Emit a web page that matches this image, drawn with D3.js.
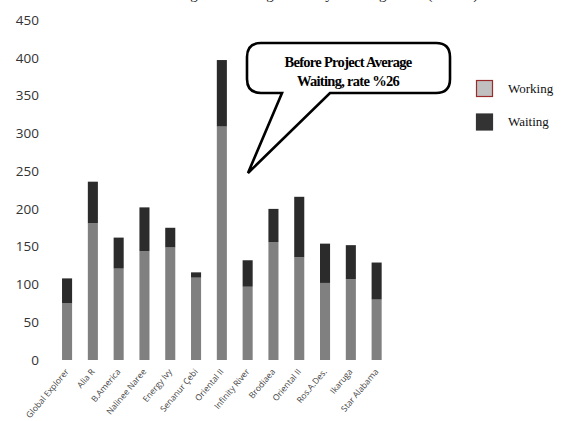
<!DOCTYPE html>
<html>
<head>
<meta charset="utf-8">
<script src="https://cdn.jsdelivr.net/npm/d3@7"></script>
<style>
  html, body { margin: 0; padding: 0; background: #fff; }
  svg { display: block; }
</style>
</head>
<body>
<svg id="chart" width="566" height="421"></svg>
<script>
const categories = ["Global Explorer", "Alia R", "B.America", "Nalinee Naree", "Energy Ivy", "Senanur Çebi", "Oriental II", "Infinity River", "Brodiaea", "Oriental II", "Ros.A.Des.", "Ikaruga", "Star Alabama"];
const working = [75, 181, 121, 144, 149, 109, 309, 97, 156, 136, 102, 107, 80];
const waiting = [33, 55, 41, 58, 26, 7, 88, 35, 44, 80, 52, 45, 49];
const yTicks = [0, 50, 100, 150, 200, 250, 300, 350, 400, 450];
const seriesNames = ["Working", "Waiting"];
const titleText = "Vessel Working and Waiting Times by Loading Berth (Before)";
const calloutLines = ["Before Project Average", "Waiting, rate  %26"];

const svg = d3.select("#chart");
const idx = d3.range(categories.length);

const x = d3.scaleBand().domain(idx).range([46.3, 397.4]).padding(0.61);
const y = d3.scaleLinear().domain([0, 450]).range([360, 20]);

// cropped title (only descenders visible, as in the reference)
svg.append("text")
  .attr("x", 291).attr("y", -1)
  .attr("text-anchor", "middle")
  .attr("font-family", "Liberation Serif")
  .attr("font-size", 15)
  .attr("fill", "#222")
  .text(titleText);

// y axis
const yAxis = d3.axisLeft(y).tickValues(yTicks).tickSize(0).tickPadding(0);
const gy = svg.append("g").attr("transform", "translate(39,0)").call(yAxis);
gy.select(".domain").remove();
gy.selectAll("text")
  .attr("font-family", "Open Sans")
  .attr("font-size", 13.5)
  .attr("fill", "#333");

// stacked bars
const rows = idx.map(i => ({ i, Working: working[i], Waiting: waiting[i] }));
const stack = d3.stack().keys(seriesNames)(rows);
const colors = { Working: "#808080", Waiting: "#2b2b2b" };

svg.selectAll("g.layer").data(stack).join("g")
  .attr("class", "layer")
  .attr("fill", d => colors[d.key])
  .selectAll("rect").data(d => d).join("rect")
  .attr("x", d => x(d.data.i))
  .attr("width", x.bandwidth())
  .attr("y", d => y(d[1]))
  .attr("height", d => y(d[0]) - y(d[1]));

// x axis labels
const xAxis = d3.axisBottom(x).tickSize(0).tickPadding(0).tickFormat(i => categories[i]);
const gx = svg.append("g").attr("transform", "translate(0,366)").call(xAxis);
gx.select(".domain").remove();
gx.selectAll("text")
  .attr("font-family", "Open Sans")
  .attr("font-size", 8.5)
  .attr("fill", "#444")
  .attr("text-anchor", "end")
  .attr("dy", "0.35em")
  .attr("transform", "translate(0,4) rotate(-50)");

// callout
const bx0 = 247, bx1 = 450, by0 = 43, by1 = 93, r = 14;
const tipX = 248, tipY = 173, t0 = 282, t1 = 330;
const p = d3.path();
p.moveTo(bx0 + r, by0);
p.lineTo(bx1 - r, by0);
p.quadraticCurveTo(bx1, by0, bx1, by0 + r);
p.lineTo(bx1, by1 - r);
p.quadraticCurveTo(bx1, by1, bx1 - r, by1);
p.lineTo(t1, by1);
p.lineTo(tipX, tipY);
p.lineTo(t0, by1);
p.lineTo(bx0 + r, by1);
p.quadraticCurveTo(bx0, by1, bx0, by1 - r);
p.lineTo(bx0, by0 + r);
p.quadraticCurveTo(bx0, by0, bx0 + r, by0);
p.closePath();
svg.append("path").attr("d", p.toString())
  .attr("fill", "#fff").attr("stroke", "#000").attr("stroke-width", 2.6)
  .attr("stroke-linejoin", "miter");

svg.selectAll("text.callout").data(calloutLines).join("text")
  .attr("class", "callout")
  .attr("x", 348)
  .attr("y", (d, i) => 67 + i * 19)
  .attr("text-anchor", "middle")
  .attr("font-family", "Liberation Serif")
  .attr("font-weight", "bold")
  .attr("font-size", 14.5)
  .attr("letter-spacing", -0.7)
  .attr("fill", "#000")
  .text(d => d);

// legend
const legendFill = { Working: "#c0c0c0", Waiting: "#333333" };
const legendStroke = { Working: "#9b2a2a", Waiting: "#333333" };
const lg = svg.selectAll("g.legend").data(seriesNames).join("g")
  .attr("class", "legend")
  .attr("transform", (d, i) => `translate(476,${80 + i * 33.5})`);
lg.append("rect")
  .attr("x", 0.5).attr("y", 0.5).attr("width", 16).attr("height", 16)
  .attr("fill", d => legendFill[d])
  .attr("stroke", d => legendStroke[d]).attr("stroke-width", 1.2);
lg.append("text")
  .attr("x", 32).attr("y", 12.5)
  .attr("font-family", "Liberation Serif")
  .attr("font-size", 13)
  .attr("fill", "#111")
  .text(d => d);
</script>
</body>
</html>
